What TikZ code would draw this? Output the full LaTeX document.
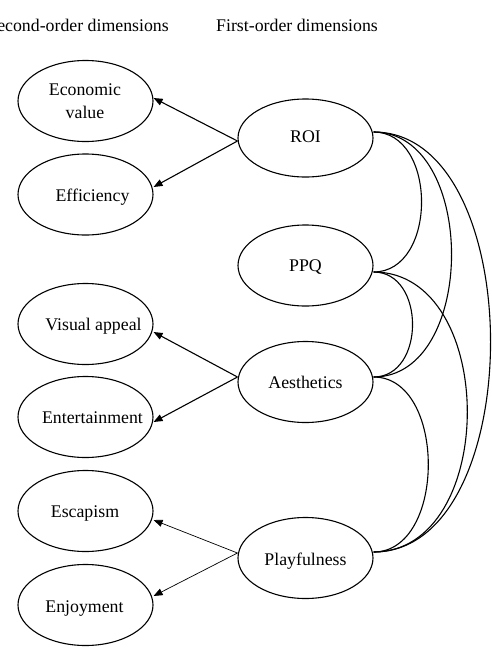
\documentclass[tikz,border=0pt]{standalone}
\usepackage{fontspec}
\setmainfont{Liberation Serif}
\usetikzlibrary{shapes.geometric,arrows.meta}
\begin{document}
\begin{tikzpicture}[x=1pt,y=-1pt,
  ell/.style={draw, ellipse, line width=1.1pt, minimum width=135pt, minimum height=81pt, inner sep=0pt},
  lbl/.style={font=\fontsize{17.8}{23}\selectfont, inner sep=0pt, anchor=base},
  arr/.style={line width=1.1pt, -{Triangle[length=9pt,width=7pt]}},
  thinarr/.style={arr, line width=0.7pt},
  cov/.style={line width=1.1pt}
]
\useasboundingbox (0,0) rectangle (491,651);

% headers
\node[lbl, anchor=base east] (h2) at (169,31) {Second-order dimensions};
\node[lbl, anchor=base west] (h1) at (216,31) {First-order dimensions};

% second-order ellipses
\node[ell] (econ) at (85.5,101) {};
\node[ell] (eff)  at (85.5,194.5) {};
\node[ell] (vis)  at (85.5,324) {};
\node[ell] (ent)  at (85.5,417) {};
\node[ell] (esc)  at (85.5,511) {};
\node[ell] (enj)  at (85.5,605) {};

% first-order ellipses
\node[ell, minimum height=78pt] (roi) at (305.5,138) {};
\node[ell] (ppq)  at (305.5,265.5) {};
\node[ell] (aes)  at (305.5,382) {};
\node[ell] (play) at (305.5,558) {};

% labels
\node[lbl] (econa) at (85,95) {Economic};
\node[lbl] (econb) at (85,118) {value};
\node[lbl] (effl)  at (92.5,201) {Efficiency};
\node[lbl] (visl)  at (93.5,330) {Visual appeal};
\node[lbl] (entl)  at (92.5,423) {Entertainment};
\node[lbl] (escl)  at (85,517) {Escapism};
\node[lbl] (enjl)  at (84.5,612) {Enjoyment};
\node[lbl] (roil)  at (305.5,142) {ROI};
\node[lbl] (ppql)  at (305.5,271.5) {PPQ};
\node[lbl] (aesl)  at (305.5,388) {Aesthetics};
\node[lbl] (playl) at (305.5,565) {Playfulness};

% arrows
\draw[arr] ([yshift=-3pt]roi.west) -- ([yshift=3pt]econ.east);
\draw[arr] ([yshift=-3pt]roi.west) -- ([yshift=7.5pt]eff.east);
\draw[arr] ([yshift=5pt]aes.west) -- ([yshift=-8pt]vis.east);
\draw[arr] ([yshift=5pt]aes.west) -- ([yshift=-5pt]ent.east);
\draw[thinarr] ([yshift=5pt]play.west) -- ([yshift=-9pt]esc.east);
\draw[thinarr] ([yshift=5pt]play.west) -- ([yshift=9pt]enj.east);

% covariance curves
\coordinate (r1) at ([yshift=6pt]roi.east);
\coordinate (p1) at ([yshift=-6.5pt]ppq.east);
\coordinate (a1) at ([yshift=5pt]aes.east);
\coordinate (f1) at ([yshift=6pt]play.east);
\draw[cov] (r1) .. controls +(64,0) and +(64,0) .. (p1);
\draw[cov] (r1) .. controls +(104,0) and +(104,0) .. (a1);
\draw[cov] (r1) .. controls +(156,0) and +(156,0) .. (f1);
\draw[cov] (p1) .. controls +(52,0) and +(52,0) .. (a1);
\draw[cov] (p1) .. controls +(125,0) and +(125,0) .. (f1);
\draw[cov] (a1) .. controls +(73,0) and +(73,0) .. (f1);
\end{tikzpicture}
\end{document}
